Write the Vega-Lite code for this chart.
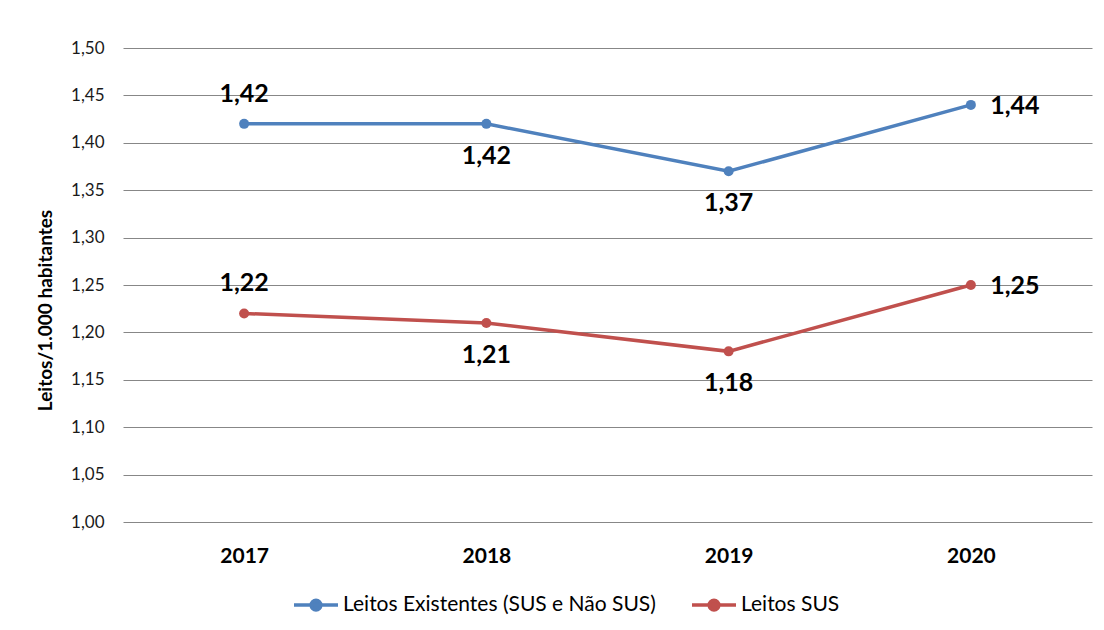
{
  "$schema": "https://vega.github.io/schema/vega-lite/v6.json",
  "width": 969,
  "height": 474,
  "autosize": {"type": "none"},
  "padding": {"left": 123, "top": 48, "right": 12, "bottom": 108},
  "background": "white",
  "config": {
    "font": "Lato",
    "view": {"stroke": null},
    "locale": {"number": {"decimal": ",", "thousands": ".", "grouping": [3], "currency": ["R$", ""]}}
  },
  "data": {
    "values": [
      {"year": "2017", "serie": "Leitos Existentes (SUS e Não SUS)", "value": 1.42, "pos": "above"},
      {"year": "2018", "serie": "Leitos Existentes (SUS e Não SUS)", "value": 1.42, "pos": "below"},
      {"year": "2019", "serie": "Leitos Existentes (SUS e Não SUS)", "value": 1.37, "pos": "below"},
      {"year": "2020", "serie": "Leitos Existentes (SUS e Não SUS)", "value": 1.44, "pos": "right"},
      {"year": "2017", "serie": "Leitos SUS", "value": 1.22, "pos": "above"},
      {"year": "2018", "serie": "Leitos SUS", "value": 1.21, "pos": "below"},
      {"year": "2019", "serie": "Leitos SUS", "value": 1.18, "pos": "below"},
      {"year": "2020", "serie": "Leitos SUS", "value": 1.25, "pos": "right"}
    ]
  },
  "encoding": {
    "x": {
      "field": "year",
      "type": "ordinal",
      "scale": {"type": "point", "padding": 0.5},
      "axis": {
        "title": null,
        "labelAngle": 0,
        "domain": false,
        "ticks": false,
        "grid": false,
        "labelFontSize": 21,
        "labelFontWeight": "bold",
        "labelColor": "#000000",
        "labelPadding": 23
      }
    },
    "y": {
      "field": "value",
      "type": "quantitative",
      "scale": {"domain": [1, 1.5], "nice": false, "zero": false},
      "axis": {
        "values": [1, 1.05, 1.1, 1.15, 1.2, 1.25, 1.3, 1.35, 1.4, 1.45, 1.5],
        "format": ".2f",
        "grid": true,
        "gridColor": "#878787",
        "gridWidth": 1,
        "domain": false,
        "ticks": false,
        "tickSize": 0,
        "labelPadding": 19,
        "labelFontSize": 17,
        "labelColor": "#1a1a1a",
        "title": "Leitos/1.000 habitantes",
        "titleFontSize": 19,
        "titleFontWeight": "bold",
        "titleColor": "#000000",
        "titleAngle": -90,
        "titleX": -78,
        "titleY": 262,
        "titleAlign": "center",
        "titleBaseline": "middle"
      }
    }
  },
  "layer": [
    {
      "mark": {"type": "line", "strokeWidth": 3.5},
      "encoding": {
        "color": {
          "field": "serie",
          "type": "nominal",
          "scale": {
            "domain": ["Leitos Existentes (SUS e Não SUS)", "Leitos SUS"],
            "range": ["#4F81BD", "#C0504D"]
          },
          "legend": {
            "title": null,
            "orient": "none",
            "direction": "horizontal",
            "legendX": 169,
            "legendY": 533,
            "padding": 0,
            "symbolType": "M-1,0L1,0M-0.22,0A0.22,0.22,0,1,1,0.22,0A0.22,0.22,0,1,1,-0.22,0Z",
            "symbolSize": 1936,
            "symbolStrokeWidth": 3.5,
            "labelFontSize": 21,
            "labelLimit": 0,
            "labelColor": "#000000",
            "labelOffset": 3,
            "columnPadding": 29,
            "encode": {
              "symbols": {
                "update": {
                  "fill": {"scale": "color", "field": "value"},
                  "stroke": {"scale": "color", "field": "value"},
                  "fillOpacity": {"value": 1},
                  "strokeOpacity": {"value": 1}
                }
              }
            }
          }
        }
      }
    },
    {
      "mark": {"type": "point", "filled": true, "size": 100, "opacity": 1},
      "encoding": {
        "color": {"field": "serie", "type": "nominal", "legend": null}
      }
    },
    {
      "transform": [{"filter": "datum.pos == 'above'"}],
      "mark": {"type": "text", "dy": -30, "fontSize": 25, "fontWeight": "bold", "color": "#000000", "baseline": "middle"},
      "encoding": {"text": {"field": "value", "type": "quantitative", "format": ".2f"}}
    },
    {
      "transform": [{"filter": "datum.pos == 'below'"}],
      "mark": {"type": "text", "dy": 32, "fontSize": 25, "fontWeight": "bold", "color": "#000000", "baseline": "middle"},
      "encoding": {"text": {"field": "value", "type": "quantitative", "format": ".2f"}}
    },
    {
      "transform": [{"filter": "datum.pos == 'right'"}],
      "mark": {"type": "text", "dx": 44, "dy": 1, "fontSize": 25, "fontWeight": "bold", "color": "#000000", "baseline": "middle"},
      "encoding": {"text": {"field": "value", "type": "quantitative", "format": ".2f"}}
    }
  ]
}
